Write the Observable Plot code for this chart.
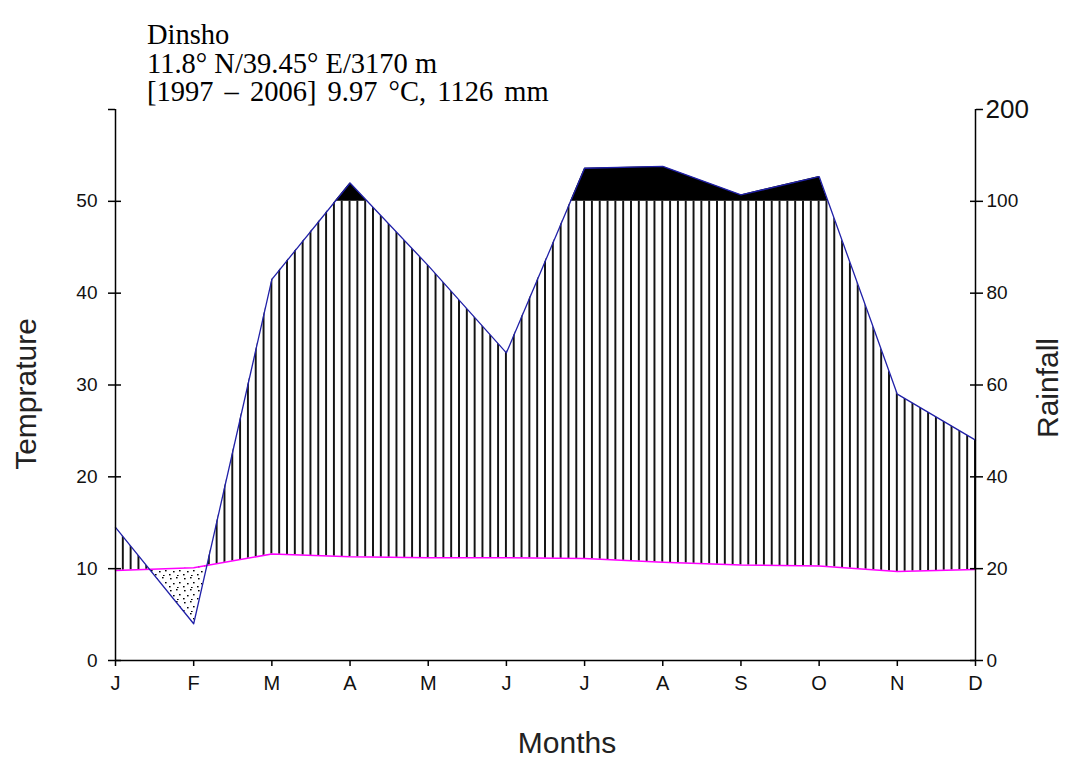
<!DOCTYPE html>
<html>
<head>
<meta charset="utf-8">
<script src="https://cdn.jsdelivr.net/npm/d3@7"></script>
<script src="https://cdn.jsdelivr.net/npm/@observablehq/plot@0.6"></script>
<style>
  html, body { margin: 0; padding: 0; background: #fff; }
  #wrap { position: relative; width: 1067px; height: 760px; overflow: hidden; }
  .title { position: absolute; left: 147px; font-family: "Liberation Serif", "Times New Roman", serif; font-size: 28.5px; color: #000; line-height: 28.5px; white-space: nowrap; }
  .axt { position: absolute; font-family: "Liberation Sans", Arial, sans-serif; font-size: 30px; color: #222; white-space: nowrap; }
</style>
</head>
<body>
<div id="wrap">
  <div id="chart"></div>
</div>
<script>
// ---- data ----
const months = ["J","F","M","A","M","J","J","A","S","O","N","D"];
const temperature = [9.8, 10.1, 11.6, 11.3, 11.2, 11.2, 11.1, 10.7, 10.4, 10.3, 9.7, 9.9]; // °C
const rainfall = [29, 8, 83, 120, 86, 67, 136, 138, 107, 127, 58, 48]; // mm
const tempTicks = [0, 10, 20, 30, 40, 50];
const rainTicks = [0, 20, 40, 60, 80, 100];
const rainTopTick = 200;
const titleLines = ["Dinsho", "11.8° N/39.45° E/3170 m", "[1997 – 2006] 9.97 °C, 1126 mm"];

// Walter–Lieth rainfall scale: 2 mm per °C up to 100 mm, then 10 mm per °C
const rainToT = r => r <= 100 ? r / 2 : 50 + (r - 100) / 10;

const base = months.map((m, i) => ({x: i, t: temperature[i], r: rainToT(rainfall[i])}));

// add crossing points (rain = temp, rain = 50) so filled regions follow the lines exactly
const rows = [];
for (let i = 0; i < base.length; i++) {
  rows.push(base[i]);
  if (i < base.length - 1) {
    const a = base[i], b = base[i + 1];
    const ss = [];
    const d0 = a.r - a.t, d1 = b.r - b.t;
    if (d0 * d1 < 0) ss.push(d0 / (d0 - d1));
    const e0 = a.r - 50, e1 = b.r - 50;
    if (e0 * e1 < 0) ss.push(e0 / (e0 - e1));
    ss.sort((p, q) => p - q).forEach(s => rows.push({
      x: a.x + s, t: a.t + s * (b.t - a.t), r: a.r + s * (b.r - a.r)
    }));
  }
}

const W = 1067, H = 760;
const chart = Plot.plot({
  width: W, height: H,
  marginLeft: 115, marginRight: 92, marginTop: 109, marginBottom: 100,
  x: {type: "linear", domain: [0, 11]},
  y: {domain: [0, 60]},
  style: {fontFamily: "Liberation Sans, Arial, sans-serif", color: "#111", background: "transparent"},
  marks: [
    // humid period (hatched)
    Plot.areaY(rows, {x: "x", y1: "t", y2: d => Math.max(d.t, Math.min(d.r, 50)), fill: "url(#hatch)"}),
    // arid period (stippled)
    Plot.areaY(rows, {x: "x", y1: d => Math.min(d.r, d.t), y2: "t", fill: "url(#dots)"}),
    // perhumid (> 100 mm, black)
    Plot.areaY(rows, {x: "x", y1: 50, y2: d => Math.max(50, d.r), fill: "black"}),
    // lines
    Plot.line(base, {x: "x", y: "t", stroke: "#ff00ff", strokeWidth: 1.5}),
    Plot.line(base, {x: "x", y: "r", stroke: "#2020a8", strokeWidth: 1.3}),
    // axis lines
    Plot.ruleX([0], {y1: 0, y2: 60, stroke: "#000", strokeWidth: 1.5}),
    Plot.ruleX([11], {y1: 0, y2: 60, stroke: "#000", strokeWidth: 1.5}),
    Plot.ruleY([0], {x1: 0, x2: 11, stroke: "#000", strokeWidth: 1.5}),
    // left axis
    Plot.axisY(tempTicks, {anchor: "left", tickSize: 7, tickPadding: 11, fontSize: 19, label: null, stroke: "#000", strokeWidth: 1.5}),
    Plot.axisY(tempTicks, {anchor: "left", tickSize: -6, tickFormat: () => "", label: null, stroke: "#000", strokeWidth: 1.5}),
    Plot.axisY([60], {anchor: "left", tickSize: 7, tickFormat: () => "", label: null, stroke: "#000", strokeWidth: 1.5}),
    // right axis
    Plot.axisY(rainTicks.map(rainToT), {anchor: "right", tickSize: 7, tickPadding: 4, fontSize: 19, label: null,
      tickFormat: d => String(rainTicks[rainTicks.map(rainToT).indexOf(d)]), stroke: "#000", strokeWidth: 1.5}),
    Plot.axisY(rainTicks.map(rainToT), {anchor: "right", tickSize: -6, tickFormat: () => "", label: null, stroke: "#000", strokeWidth: 1.5}),
    Plot.axisY([rainToT(rainTopTick)], {anchor: "right", tickSize: 7, tickPadding: 3, fontSize: 26, label: null,
      tickFormat: () => String(rainTopTick), stroke: "#000", strokeWidth: 1.5}),
    // bottom axis
    Plot.axisX(d3.range(months.length), {anchor: "bottom", tickSize: 6, tickPadding: 9, fontSize: 20, label: null,
      tickFormat: i => months[i], stroke: "#000", strokeWidth: 1.5})
  ]
});

// patterns for the hatch and stipple, aligned to the x scale
const xs = chart.scale("x");
const step = (xs.apply(1) - xs.apply(0)) / 10;
const svg = d3.select(chart);
const defs = svg.insert("defs", ":first-child");
const hatch = defs.append("pattern").attr("id", "hatch").attr("patternUnits", "userSpaceOnUse")
  .attr("x", xs.apply(0) - step / 2).attr("y", 0).attr("width", step).attr("height", 10);
hatch.append("rect").attr("x", step / 2 - 0.9).attr("y", 0).attr("width", 1.8).attr("height", 10).attr("fill", "#000");
const dots = defs.append("pattern").attr("id", "dots").attr("patternUnits", "userSpaceOnUse")
  .attr("x", 0).attr("y", 0).attr("width", 14).attr("height", 12);
[[2, 2], [8, 1], [11, 6], [5, 7], [1, 10], [9, 11]].forEach(([cx, cy]) =>
  dots.append("rect").attr("x", cx).attr("y", cy).attr("width", 1.6).attr("height", 1.4).attr("fill", "#000"));

document.getElementById("chart").appendChild(chart);

// titles
const wrap = document.getElementById("wrap");
titleLines.forEach((t, i) => {
  const d = document.createElement("div");
  d.className = "title";
  d.textContent = t;
  d.style.top = (21 + i * 28.5) + "px";
  if (i === 2) d.style.wordSpacing = "4px";
  wrap.appendChild(d);
});
function axisTitle(text, cx, cy, rot) {
  const d = document.createElement("div");
  d.className = "axt";
  d.textContent = text;
  d.style.left = cx + "px";
  d.style.top = cy + "px";
  d.style.transform = "translate(-50%, -50%)" + (rot ? " rotate(-90deg)" : "");
  wrap.appendChild(d);
}
axisTitle("Temprature", 26, 394, true);
axisTitle("Rainfall", 1048, 388, true);
axisTitle("Months", 567, 743, false);
</script>
</body>
</html>
